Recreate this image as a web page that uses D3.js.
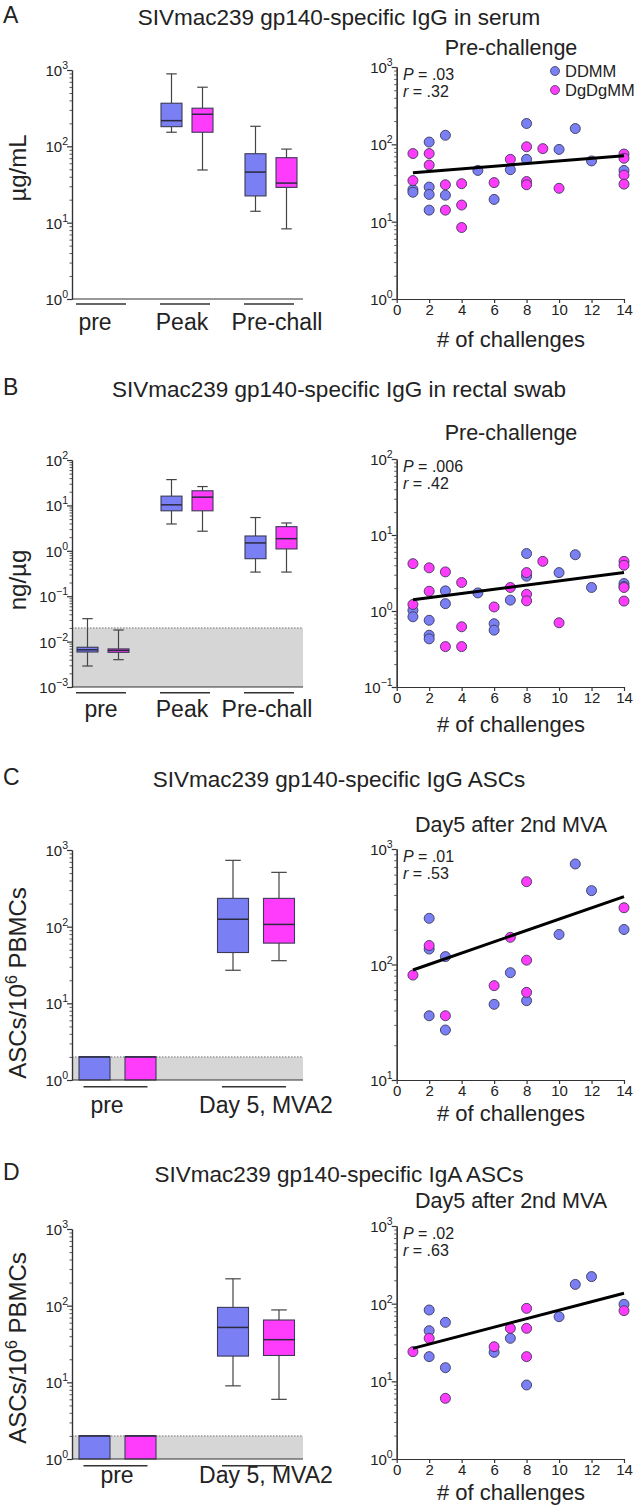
<!DOCTYPE html>
<html><head><meta charset="utf-8">
<script src="https://cdn.jsdelivr.net/npm/d3@7"></script>
<style>body{margin:0;background:#fff}</style>
</head><body><svg id="c" width="636" height="1512"></svg>
<script>
// ---------------- DATA ----------------
const panelLetters = ["A","B","C","D"];
const panelTitles = [
  "SIVmac239 gp140-specific IgG in serum",
  "SIVmac239 gp140-specific IgG in rectal swab",
  "SIVmac239 gp140-specific IgG ASCs",
  "SIVmac239 gp140-specific IgA ASCs"];
const yAxisTitles = ["µg/mL","ng/µg","ASCs/10|6| PBMCs","ASCs/10|6| PBMCs"];
const scatterSubtitles = ["Pre-challenge","Pre-challenge","Day5 after 2nd MVA","Day5 after 2nd MVA"];
const seriesNames = ["DDMM","DgDgMM"];
const groupsAB = ["pre","Peak","Pre-chall"];
const groupsCD = ["pre","Day 5, MVA2"];
// box stats per group: [min, q1, median, q3, max]
const boxA_DDMM   = [null, [153,181,217,367,890], [14.1,22.4,46,80,183]];
const boxA_DgDgMM = [null, [49,153,263,316,595],  [8.3,29,33,71,92]];
const boxB_DDMM   = [[0.0029,0.0059,0.0066,0.0075,0.032],[3.9,7.6,10.3,16,37],[0.34,0.67,1.49,2.12,5.4]];
const boxB_DgDgMM = [[0.0040,0.0058,0.0064,0.0069,0.018],[2.7,7.6,15.2,21,26],[0.34,1.1,1.85,3.4,4.1]];
const boxC_DDMM   = [[1,1,2,2,2],[27,46,125,234,733]];
const boxC_DgDgMM = [[1,1,2,2,2],[36,61,107,234,511]];
const boxD_DDMM   = [[1,1,2,2,2],[9,22,52,95,224]];
const boxD_DgDgMM = [[1,1,2,2,2],[6,22.4,36,65,88]];
const detectionLimits = [null, 0.02, 2, 2];
// left (box) axis ranges and right (scatter) axis ranges
const boxAxisRanges = [[1,1e3],[1e-3,1e2],[1,1e3],[1,1e3]];
const scatterAxisRanges = [[1,1e3],[0.1,1e2],[10,1e3],[1,1e3]];
const challengeTicks = [0,2,4,6,8,10,12,14];
// scatter points [# of challenges, value]
const scatA_DDMM = [[1,26],[1,24],[2,107],[2,28],[2,22.5],[2,14.1],[3,131],[3,22],[5,46],[6,19.4],[7,47],[8,186],[8,64],[10,86],[11,160],[12,61],[14,46]];
const scatA_DgDgMM = [[1,76],[1,34],[2,76],[2,54],[3,30],[3,14.1],[4,31],[4,16.4],[4,8.4],[6,32],[7,64],[8,93],[8,33],[8,30],[9,88],[10,27],[14,75],[14,66],[14,40],[14,30.6]];
const scatB_DDMM = [[1,1.02],[1,0.84],[2,0.755],[2,0.48],[2,0.43],[3,1.84],[3,1.25],[5,1.73],[6,0.68],[6,0.56],[7,1.39],[8,5.7],[8,2.87],[10,3.2],[11,5.5],[12,2.04],[14,2.3],[14,2.1]];
const scatB_DgDgMM = [[1,4.2],[1,1.22],[2,3.7],[2,1.82],[3,3.27],[3,0.34],[4,2.37],[4,0.62],[4,0.34],[6,1.13],[7,2.04],[8,3.2],[8,1.66],[8,1.36],[9,4.5],[10,0.70],[14,4.5],[14,4.0],[14,2.04],[14,1.35]];
const scatC_DDMM = [[2,251],[2,136],[2,36],[3,117],[3,27.1],[6,45.2],[7,85],[8,48.6],[10,182],[11,742],[12,436],[14,201]];
const scatC_DgDgMM = [[1,81],[2,146],[3,36],[6,65.6],[7,172],[8,521],[8,109],[8,57.4],[14,310]];
const scatD_DDMM = [[2,82.9],[2,44.9],[2,20.8],[3,57.5],[3,15],[6,23.6],[7,35.8],[8,8.97],[10,68],[11,177],[12,223],[14,98]];
const scatD_DgDgMM = [[1,24.1],[2,35.8],[3,6.04],[6,27.9],[7,48.1],[8,87],[8,48.1],[8,20.8],[14,81.3]];
// regression line end points [x, fitted value]
const fitA = [[1,43],[14,71]];
const fitB = [[1,1.41],[14,3.2]];
const fitC = [[1,89.6],[14,387]];
const fitD = [[1,26.6],[14,136]];
const statsP = [".03",".006",".01",".02"];
const statsR = [".32",".42",".53",".63"];

// ---------------- LAYOUT ----------------
const FONT = '"Liberation Sans", Arial, Helvetica, sans-serif';
const BLUE = "#7b7ff4", PINK = "#ff3cfb", INK = "#222", AX = "#333";
const colors = [BLUE, PINK];
const boxAxisX = 72, boxAxisRight = 303;
const scatX0 = 396.7, scatX1 = 624;
const boxYpx = [[70,299],[460,687],[850,1080],[1229,1459]];
const scatYpx = [[67,299],[459,687],[849,1080],[1226,1459]];
const titleY = [25,397,787,1182];
const subY = [55,440,832,1208];
const catLabelY = [330,717,1113,1483];
const underlineY = [304,692.7,1086.7,1465.7];
const xTitleY = [347,732,1121,1500];
const yTitleCY = [168,580,983,1348];
const catLabelX = [[95,182,277],[101,182,267],[107,266],[117,266]];

const panels = [
  {groups:groupsAB, boxes:[boxA_DDMM,boxA_DgDgMM], scat:[scatA_DDMM,scatA_DgDgMM], fit:fitA},
  {groups:groupsAB, boxes:[boxB_DDMM,boxB_DgDgMM], scat:[scatB_DDMM,scatB_DgDgMM], fit:fitB},
  {groups:groupsCD, boxes:[boxC_DDMM,boxC_DgDgMM], scat:[scatC_DDMM,scatC_DgDgMM], fit:fitC},
  {groups:groupsCD, boxes:[boxD_DDMM,boxD_DgDgMM], scat:[scatD_DDMM,scatD_DgDgMM], fit:fitD}
];

const svg = d3.select("#c").attr("font-family", FONT);

function logTicks(dom){
  const e0 = Math.round(Math.log10(dom[0])), e1 = Math.round(Math.log10(dom[1]));
  const ma = [], mi = [];
  for (let e = e0; e <= e1; e++){
    ma.push(Math.pow(10,e));
    if (e < e1) for (let k = 2; k < 10; k++) mi.push(k*Math.pow(10,e));
  }
  return [ma, mi];
}
function styleAxis(g){
  g.selectAll("path,line").attr("stroke", AX).attr("stroke-width", 1.2);
}
function logAxis(y, x0, dom){
  const [ma, mi] = logTicks(dom);
  const g1 = svg.append("g").attr("transform", `translate(${x0},0)`)
    .call(d3.axisLeft(y).tickValues(mi).tickSize(2.5).tickFormat("").tickSizeOuter(0));
  const g2 = svg.append("g").attr("transform", `translate(${x0},0)`)
    .call(d3.axisLeft(y).tickValues(ma).tickSize(5).tickFormat("").tickSizeOuter(0));
  styleAxis(g1); styleAxis(g2);
  g1.selectAll("line").attr("stroke-width", 0.8);
  ma.forEach(v => {
    const e = Math.round(Math.log10(v));
    const t = svg.append("text").attr("x", x0 - 4).attr("y", y(v) + 6)
      .attr("text-anchor", "end").attr("font-size", 15).attr("fill", INK);
    t.append("tspan").text("10");
    t.append("tspan").attr("dy", -7).attr("font-size", 10.5).text(e < 0 ? "\u2212" + (-e) : String(e));
  });
}

panels.forEach((p, i) => {
  // panel letter and title
  svg.append("text").attr("x", 3).attr("y", titleY[i] - 2).attr("font-size", 23).attr("fill", INK).text(panelLetters[i]);
  svg.append("text").attr("x", 339).attr("y", titleY[i]).attr("text-anchor", "middle")
    .attr("font-size", 22.5).attr("fill", INK).text(panelTitles[i]);

  // ---------- box plot ----------
  const y = d3.scaleLog().domain(boxAxisRanges[i]).range([boxYpx[i][1], boxYpx[i][0]]);
  const ab = p.groups.length === 3;
  const gx = d3.scalePoint().domain(p.groups).range(ab ? [103, 271] : [117.5, 256]);
  const sx = d3.scalePoint().domain(seriesNames).range(ab ? [-15.5, 15.5] : [-23, 23]);
  const bw = ab ? 21 : 31;

  if (detectionLimits[i]) {
    const lod = detectionLimits[i];
    svg.append("rect").attr("x", boxAxisX).attr("width", boxAxisRight - boxAxisX)
      .attr("y", y(lod)).attr("height", y(boxAxisRanges[i][0]) - y(lod)).attr("fill", "#d6d6d6");
    svg.append("line").attr("x1", boxAxisX).attr("x2", boxAxisRight).attr("y1", y(lod)).attr("y2", y(lod))
      .attr("stroke", "#777").attr("stroke-width", 1).attr("stroke-dasharray", "1.5,1.5");
  }

  seriesNames.forEach((s, si) => {
    p.boxes[si].forEach((b, gi) => {
      if (!b) return;
      const cx = gx(p.groups[gi]) + sx(s);
      const [mn, q1, md, q3, mx] = b;
      const g = svg.append("g");
      g.append("line").attr("x1", cx).attr("x2", cx).attr("y1", y(mx)).attr("y2", y(q3)).attr("stroke", "#444").attr("stroke-width", 1.2);
      g.append("line").attr("x1", cx).attr("x2", cx).attr("y1", y(q1)).attr("y2", y(mn)).attr("stroke", "#444").attr("stroke-width", 1.2);
      if (mx > q3) g.append("line").attr("x1", cx - bw/4).attr("x2", cx + bw/4).attr("y1", y(mx)).attr("y2", y(mx)).attr("stroke", "#444").attr("stroke-width", 1.2);
      if (mn < q1) g.append("line").attr("x1", cx - bw/4).attr("x2", cx + bw/4).attr("y1", y(mn)).attr("y2", y(mn)).attr("stroke", "#444").attr("stroke-width", 1.2);
      g.append("rect").attr("x", cx - bw/2).attr("width", bw).attr("y", y(q3)).attr("height", y(q1) - y(q3))
        .attr("fill", colors[si]).attr("stroke", "#3a3a55").attr("stroke-width", 1.1);
      g.append("line").attr("x1", cx - bw/2).attr("x2", cx + bw/2).attr("y1", y(md)).attr("y2", y(md)).attr("stroke", "#2a2a40").attr("stroke-width", 1.5);
    });
  });

  logAxis(y, boxAxisX, boxAxisRanges[i]);
  svg.append("line").attr("x1", boxAxisX).attr("x2", boxAxisRight).attr("y1", boxYpx[i][1]).attr("y2", boxYpx[i][1])
    .attr("stroke", AX).attr("stroke-width", 1.2);

  p.groups.forEach((gname, gi) => {
    const c = gx(gname) - 2, hw = ab ? 25 : 32;
    svg.append("line").attr("x1", c - hw).attr("x2", c + hw).attr("y1", underlineY[i]).attr("y2", underlineY[i])
      .attr("stroke", "#333").attr("stroke-width", 1.6);
    svg.append("text").attr("x", catLabelX[i][gi]).attr("y", catLabelY[i]).attr("text-anchor", "middle")
      .attr("font-size", 23).attr("fill", INK).text(gname);
  });

  // y-axis title (rotated)
  const yt = svg.append("text").attr("transform", `translate(26,${yTitleCY[i]}) rotate(-90)`)
    .attr("text-anchor", "middle").attr("font-size", 24).attr("fill", INK);
  const parts = yAxisTitles[i].split("|");
  if (parts.length === 1) yt.text(parts[0]);
  else {
    yt.append("tspan").text(parts[0]);
    yt.append("tspan").attr("dy", -9).attr("font-size", 16).text(parts[1]);
    yt.append("tspan").attr("dy", 9).text(parts[2]);
  }

  // ---------- scatter ----------
  const ys = d3.scaleLog().domain(scatterAxisRanges[i]).range([scatYpx[i][1], scatYpx[i][0]]);
  const xs = d3.scaleLinear().domain([0, 14]).range([scatX0, scatX1]);

  logAxis(ys, scatX0, scatterAxisRanges[i]);
  const xa = svg.append("g").attr("transform", `translate(0,${scatYpx[i][1]})`)
    .call(d3.axisBottom(xs).tickValues(challengeTicks).tickSize(4).tickPadding(1).tickSizeOuter(0).tickFormat(d3.format("d")));
  styleAxis(xa);
  xa.selectAll("text").attr("font-size", 15).attr("font-family", FONT).attr("fill", INK);

  svg.append("text").attr("x", 511).attr("y", subY[i]).attr("text-anchor", "middle")
    .attr("font-size", 21.5).attr("fill", INK).text(scatterSubtitles[i]);
  svg.append("text").attr("x", 511).attr("y", xTitleY[i]).attr("text-anchor", "middle")
    .attr("font-size", 22).attr("fill", INK).text("# of challenges");

  const line = d3.line().x(d => xs(d[0])).y(d => ys(d[1]));
  seriesNames.forEach((s, si) => {
    svg.append("g").selectAll("circle").data(p.scat[si]).join("circle")
      .attr("cx", d => xs(d[0])).attr("cy", d => ys(d[1])).attr("r", 5)
      .attr("fill", colors[si]).attr("stroke", "#3a3a5a").attr("stroke-width", 0.9);
  });
  svg.append("path").datum(p.fit).attr("d", line).attr("fill", "none").attr("stroke", "#000").attr("stroke-width", 3);

  const st = svg.append("text").attr("x", 403).attr("y", scatYpx[i][0] + 13).attr("font-size", 16).attr("fill", INK);
  st.append("tspan").attr("font-style", "italic").text("P");
  st.append("tspan").text(" = " + statsP[i]);
  const rt = svg.append("text").attr("x", 403).attr("y", scatYpx[i][0] + 30).attr("font-size", 16).attr("fill", INK);
  rt.append("tspan").attr("font-style", "italic").text("r");
  rt.append("tspan").text(" = " + statsR[i]);

  if (i === 0) {
    seriesNames.forEach((s, si) => {
      svg.append("circle").attr("cx", 555).attr("cy", 71 + si*19).attr("r", 4.5)
        .attr("fill", colors[si]).attr("stroke", "#3a3a5a").attr("stroke-width", 0.8);
      svg.append("text").attr("x", 565).attr("y", 77 + si*19).attr("font-size", 16.5).attr("fill", INK).text(s);
    });
  }
});
</script>
</body></html>
